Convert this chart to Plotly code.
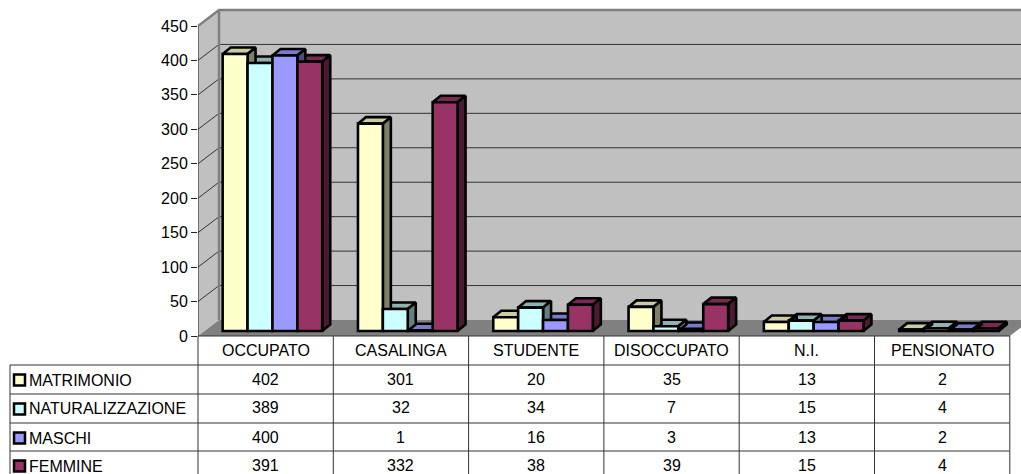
import plotly.graph_objects as go

categories = ["OCCUPATO", "CASALINGA", "STUDENTE", "DISOCCUPATO", "N.I.", "PENSIONATO"]
matrimonio = [402, 301, 20, 35, 13, 2]
naturalizzazione = [389, 32, 34, 7, 15, 4]
maschi = [400, 1, 16, 3, 13, 2]
femmine = [391, 332, 38, 39, 15, 4]
series_names = ["MATRIMONIO", "NATURALIZZAZIONE", "MASCHI", "FEMMINE"]
series_values = [matrimonio, naturalizzazione, maschi, femmine]
y_ticks = [0, 50, 100, 150, 200, 250, 300, 350, 400, 450]

front_colors = ["#FFFFCC", "#CCFFFF", "#9999FF", "#993366"]
top_colors = ["#CCCCA3", "#8FB3B3", "#7A7ACC", "#7A2952"]
side_colors = ["#80806A", "#668080", "#4D4D80", "#4D1A33"]

W, H = 1021, 474
L, B = 198, 138
PLOT_W, PLOT_H = W - L, H - B
CAT_PX = 135.3
VAL_PX = 310 / 450
xu = lambda px: px / CAT_PX
yu = lambda px: px / VAL_PX
xp = lambda px: (px - L) / PLOT_W
yp = lambda py: (PLOT_H - py) / PLOT_H

WALL_DX, WALL_DY = xu(21), yu(16)
BAR_SHIFT, BAR_BASE = xu(6.8), yu(5)
BAR_DX, BAR_DY = xu(8), yu(6.5)
BARGAP = 0.264
BAR_W = (1 - BARGAP) / 4
N = len(categories)
EDGE = 2.6

fig = go.Figure()

# top faces, then side faces, then front faces: painter's order for the 3-D look
def faces(kind, s):
    xs, ys = [], []
    for i, v in enumerate(series_values[s]):
        x0 = i + 0.5 + BAR_SHIFT - 2 * BAR_W + s * BAR_W
        x1 = x0 + BAR_W
        y1 = BAR_BASE + v
        if kind == "top":
            xs += [x0, x1, x1 + BAR_DX, x0 + BAR_DX, x0, None]
            ys += [y1, y1, y1 + BAR_DY, y1 + BAR_DY, y1, None]
        else:
            xs += [x1, x1 + BAR_DX, x1 + BAR_DX, x1, x1, None]
            ys += [BAR_BASE, BAR_BASE + BAR_DY, y1 + BAR_DY, y1, BAR_BASE, None]
    return xs, ys

for kind, colors in (("top", top_colors), ("side", side_colors)):
    for s in range(4):
        xs, ys = faces(kind, s)
        fig.add_trace(go.Scatter(x=xs, y=ys, mode="lines", fill="toself", fillcolor=colors[s],
                                 line=dict(color="black", width=EDGE), hoverinfo="skip", showlegend=False))

centers = [i + 0.5 + BAR_SHIFT for i in range(N)]
for s in range(4):
    fig.add_trace(go.Bar(x=centers, y=series_values[s], base=BAR_BASE, name=series_names[s],
                         marker=dict(color=front_colors[s], line=dict(color="black", width=EDGE)),
                         xaxis="x2", yaxis="y2", showlegend=False))

x_end = PLOT_W / CAT_PX
y_end = PLOT_H / VAL_PX
shapes = []
def poly(points, fill=None, color=None, width=1, layer="below"):
    path = "M" + " L".join(f"{a},{b}" for a, b in points)
    if fill:
        path += " Z"
    shapes.append(dict(type="path", path=path, xref="x", yref="y", layer=layer,
                       fillcolor=fill if fill else "rgba(0,0,0,0)",
                       line=dict(color=color, width=width) if color else dict(width=0)))

top = y_ticks[-1]
poly([(0, 0), (WALL_DX, WALL_DY), (WALL_DX, top + WALL_DY), (0, top)], fill="#C0C0C0")
poly([(WALL_DX, WALL_DY), (N + WALL_DX, WALL_DY), (N + WALL_DX, top + WALL_DY), (WALL_DX, top + WALL_DY)], fill="#C0C0C0")
poly([(0, 0), (N, 0), (N + WALL_DX, WALL_DY), (WALL_DX, WALL_DY)], fill="#808080")
for v in y_ticks[1:-1]:
    poly([(0, v), (WALL_DX, v + WALL_DY), (N + WALL_DX, v + WALL_DY)], color="#333333", width=1)
poly([(0, top), (WALL_DX, top + WALL_DY), (N + WALL_DX, top + WALL_DY)], color="#808080", width=2.5)
poly([(WALL_DX, WALL_DY), (WALL_DX, top + WALL_DY)], color="#808080", width=2.5)
poly([(0, 0), (0, top)], color="#222222", width=1)

# data table
def rule(x0, y0, x1, y1):
    shapes.append(dict(type="line", xref="paper", yref="paper", x0=xp(x0), y0=yp(y0), x1=xp(x1), y1=yp(y1),
                       line=dict(color="#333333", width=1), layer="above"))

col_x = [L + i * CAT_PX for i in range(N + 1)]
row_y = [336, 365, 394, 423, 451, 474]
TABLE_L = 10
for i, x in enumerate(col_x):
    rule(x, 336, x, 474)
rule(TABLE_L, 365, TABLE_L, 474)
rule(L, 336, col_x[-1], 336)
for y in row_y[1:-1]:
    rule(TABLE_L, y, col_x[-1], y)

annotations = []
FONT = "Liberation Sans, Arial, sans-serif"
SIZE = 16
def label(px, py, text, anchor="center"):
    annotations.append(dict(x=xp(px), y=yp(py), xref="paper", yref="paper", text=text, showarrow=False,
                            xanchor=anchor, yanchor="middle", align=anchor,
                            font=dict(family=FONT, size=SIZE, color="black")))

for i, c in enumerate(categories):
    label(col_x[i] + CAT_PX / 2, 350, c)
row_centers = [380, 409, 438, 466]
for s, name in enumerate(series_names):
    yc = row_centers[s]
    label(27, yc, name, anchor="left")
    shapes.append(dict(type="rect", xref="paper", yref="paper", x0=xp(14), x1=xp(25), y0=yp(yc - 5.5), y1=yp(yc + 5.5),
                       fillcolor=front_colors[s], line=dict(color="black", width=2.5), layer="above"))
    for i, v in enumerate(series_values[s]):
        label(col_x[i] + CAT_PX / 2, yc - 1, str(v))

fig.update_layout(
    width=W, height=H, autosize=False,
    margin=dict(l=L, r=0, t=0, b=B, pad=0),
    paper_bgcolor="white", plot_bgcolor="white",
    barmode="group", bargap=BARGAP, bargroupgap=0,
    shapes=shapes, annotations=annotations,
    font=dict(family=FONT, size=SIZE, color="black"),
    xaxis=dict(range=[0, x_end], visible=False, showgrid=False, zeroline=False),
    yaxis=dict(range=[0, y_end], tickmode="array", tickvals=y_ticks, ticks="outside", ticklen=6,
               tickwidth=1, tickcolor="#222222", showgrid=False, zeroline=False, showline=False,
               tickfont=dict(family=FONT, size=SIZE, color="black")),
    xaxis2=dict(range=[0, x_end], overlaying="x", matches="x", visible=False, showgrid=False, zeroline=False),
    yaxis2=dict(range=[0, y_end], overlaying="y", matches="y", visible=False, showgrid=False, zeroline=False),
)
fig.write_html("out.html", config=dict(displayModeBar=False),
               post_script="document.documentElement.style.overflow='hidden';document.body.style.margin='0';")
